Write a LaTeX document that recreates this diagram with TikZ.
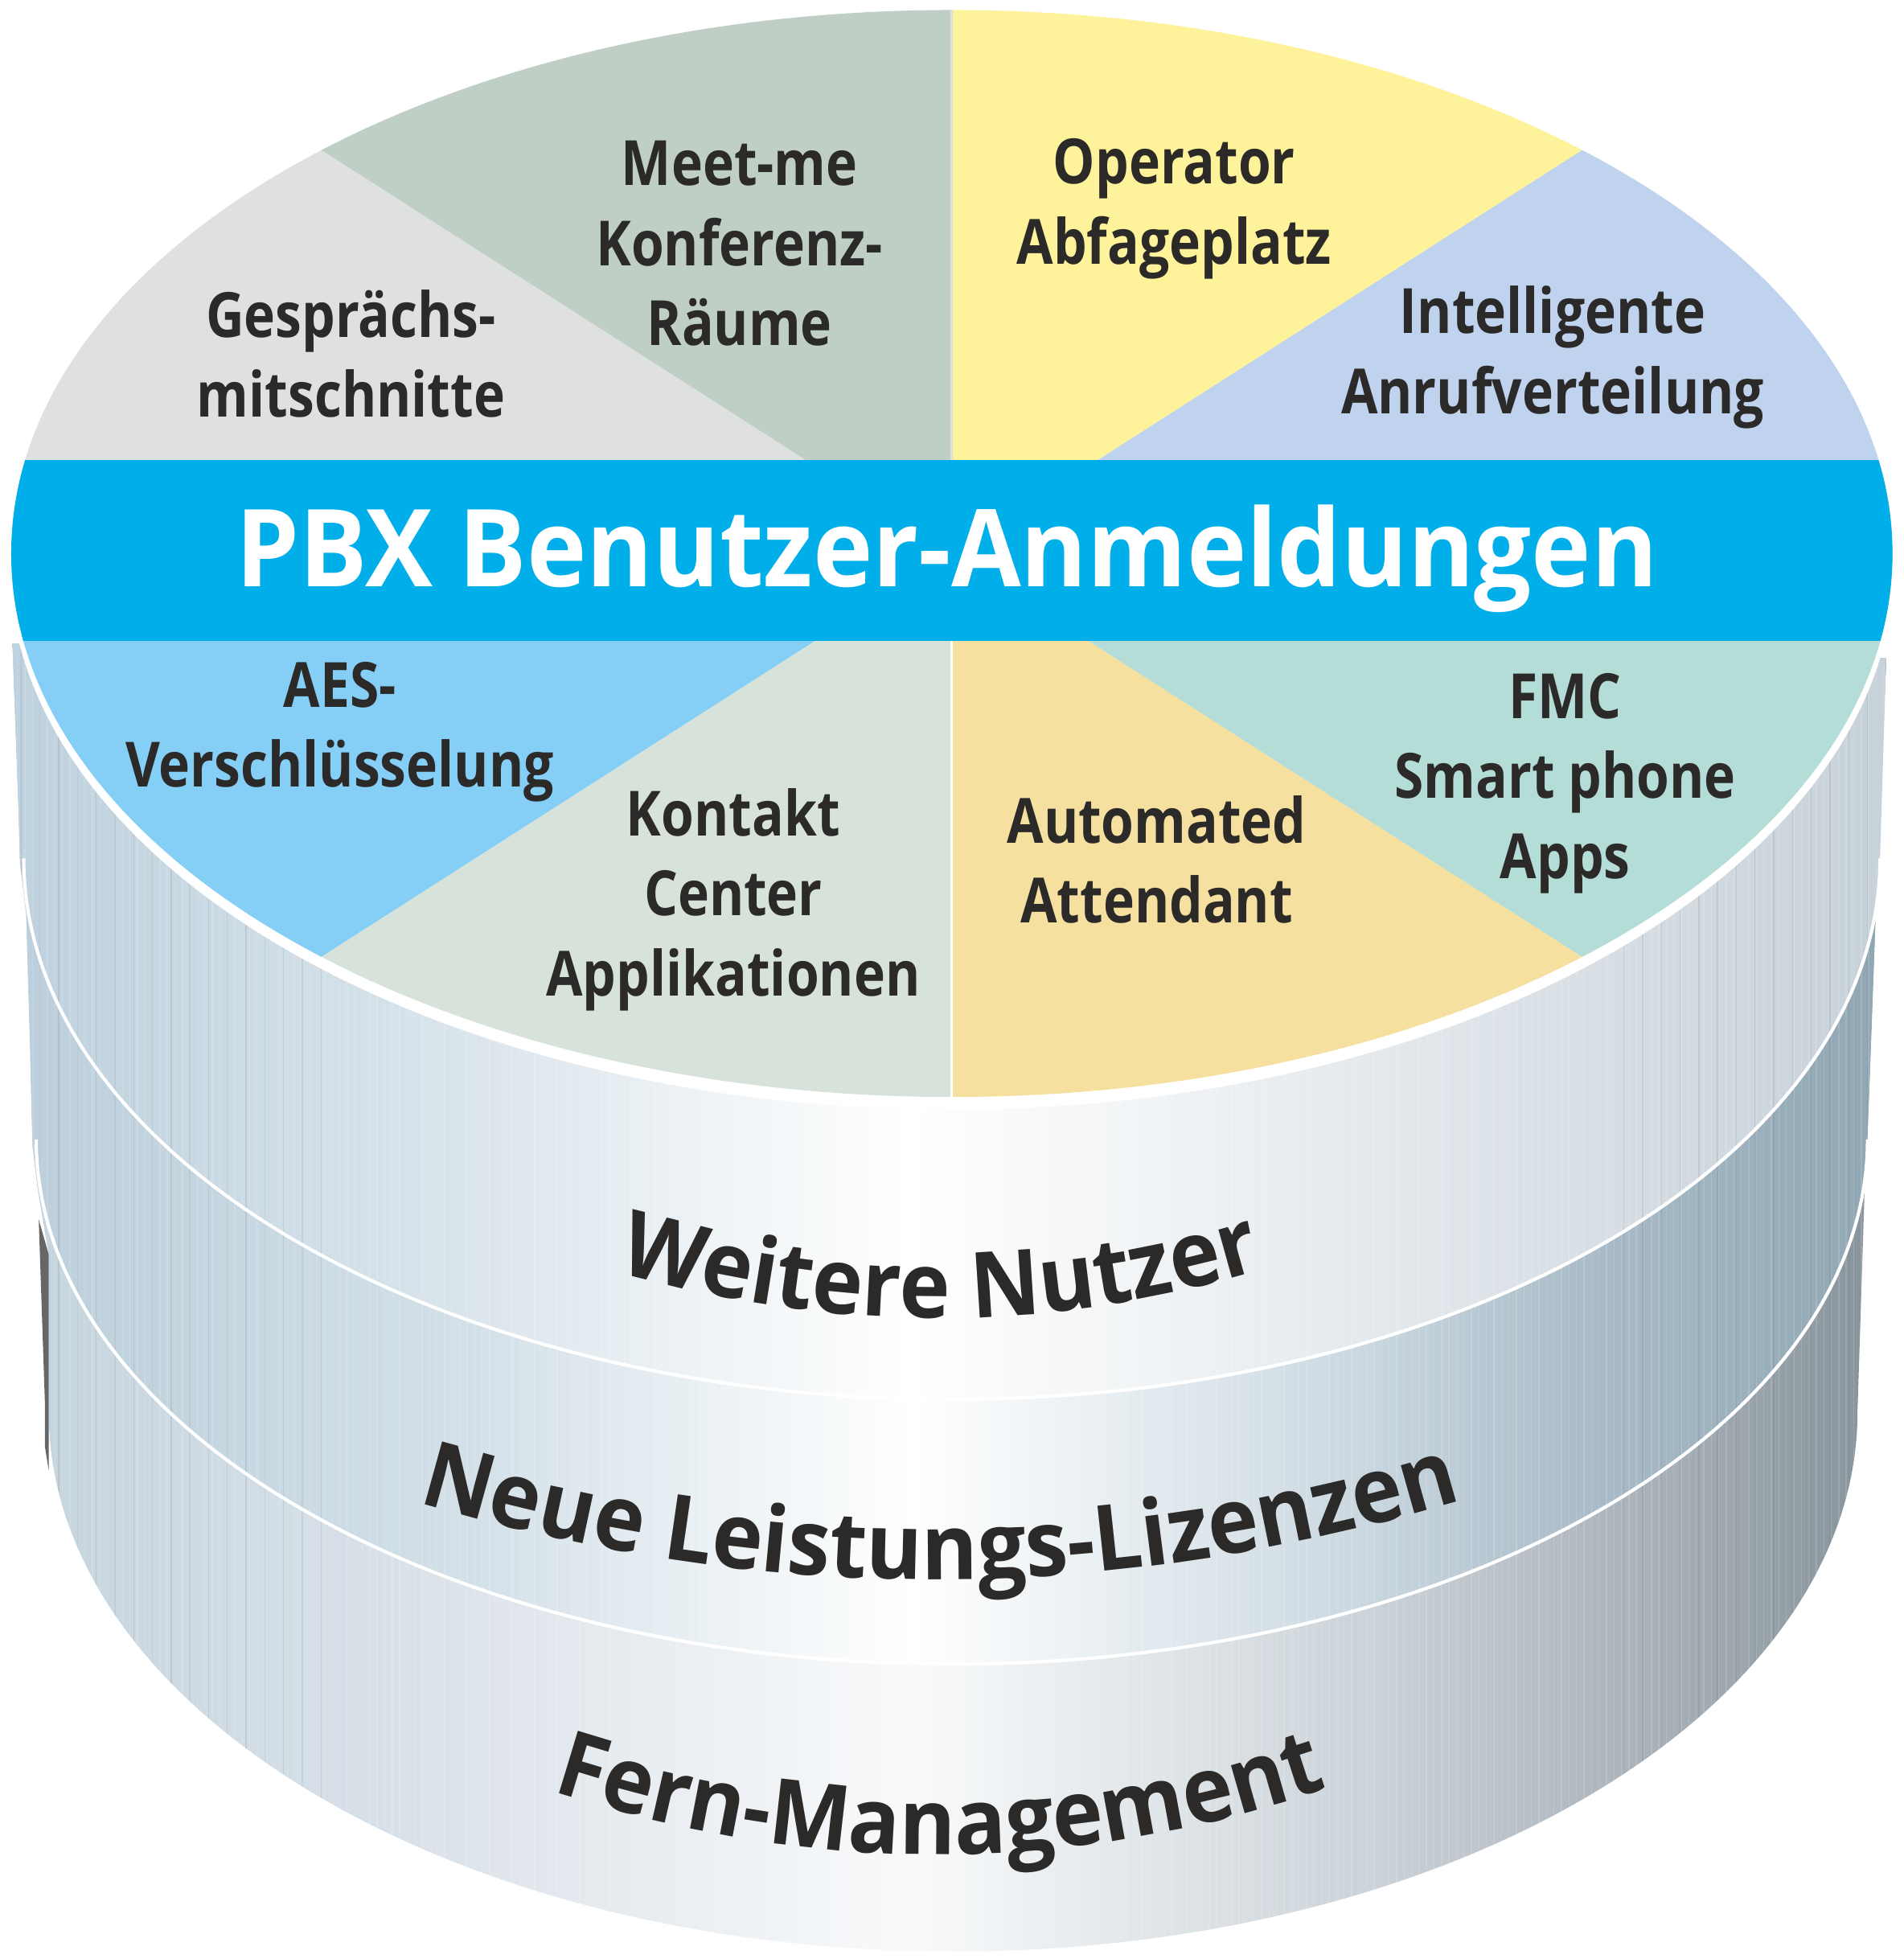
\documentclass[tikz,border=0pt]{standalone}
\usepackage{fontspec}
\setmainfont{Open Sans}
\newfontfamily\labelfam{Open Sans}[FakeStretch=0.85]
\newfontfamily\bandfam{Open Sans}[FakeStretch=0.94]
\usetikzlibrary{decorations.text}
\definecolor{inktext}{HTML}{2B2A29}
\definecolor{bandblue}{HTML}{00AEEA}
\definecolor{secgespraech}{HTML}{DFE1E0}
\definecolor{secmeetme}{HTML}{BFCFC6}
\definecolor{secoperator}{HTML}{FEF39A}
\definecolor{secanruf}{HTML}{BFD2EE}
\definecolor{secaes}{HTML}{85CEF5}
\definecolor{seckontakt}{HTML}{D7E2DA}
\definecolor{secautomated}{HTML}{F5E0A0}
\definecolor{secfmc}{HTML}{B4DDD8}
\pgfdeclarehorizontalshading{layerone}{100bp}{
  rgb(0bp)=(.745,.82,.87);
  rgb(25bp)=(.745,.82,.87);
  rgb(37.5bp)=(.86,.90,.925);
  rgb(49bp)=(1,1,1);
  rgb(61bp)=(.895,.915,.93);
  rgb(75bp)=(.78,.82,.85);
  rgb(100bp)=(.78,.82,.85)}
\pgfdeclarehorizontalshading{layertwo}{100bp}{
  rgb(0bp)=(.735,.81,.86);
  rgb(25bp)=(.735,.81,.86);
  rgb(37.5bp)=(.83,.88,.91);
  rgb(49bp)=(1,1,1);
  rgb(60bp)=(.81,.86,.89);
  rgb(67.5bp)=(.66,.73,.78);
  rgb(75bp)=(.56,.65,.70);
  rgb(100bp)=(.56,.65,.70)}
\pgfdeclarehorizontalshading{layerthree}{100bp}{
  rgb(0bp)=(.77,.83,.87);
  rgb(25bp)=(.77,.83,.87);
  rgb(37.5bp)=(.87,.895,.92);
  rgb(49bp)=(.975,.98,.985);
  rgb(61bp)=(.80,.83,.85);
  rgb(69bp)=(.66,.69,.72);
  rgb(75bp)=(.52,.57,.60);
  rgb(100bp)=(.52,.57,.60)}
\begin{document}
\begin{tikzpicture}[
  x=0.01cm, y=-0.01cm,
  seclabel/.style={align=center, text=inktext, inner sep=0pt, font=\labelfam\bfseries\fontsize{14.2}{18.2}\selectfont},
  ringlabel/.style={decorate, decoration={text along path, text align={center}, text color=inktext, text={|\bandfam\bfseries\fontsize{20.8}{25}\selectfont|#1}}},
  sepline/.style={white, line width=0.75pt},
  rib/.style={white, opacity=0.14, line width=0.25pt},
  darkrib/.style={black!60, opacity=0.14, line width=0.25pt}
]
\useasboundingbox (0,0) rectangle (1524,1568);

% body
\path[shading=layerthree] (10,515) -- (15,652) -- (16,690) -- (21,732) -- (24,836) -- (26,918) -- (30,951) -- (39,1004) -- (39,1130)
  arc[start angle=180, end angle=0, x radius=724, y radius=432] -- (1493,943) -- (1496,883) -- (1503,692) -- (1510,527) -- cycle;
\path[shading=layertwo] (10,515) -- (15,652) -- (16,690) -- (21,732) -- (24,836) -- (26,918) -- (29,912)
  arc[start angle=180, end angle=0, x radius=733, y radius=420] -- (1496,883) -- (1503,692) -- (1510,527) -- cycle;
\path[shading=layerone] (10,515) -- (15,652) -- (16,690) -- (19,687)
  arc[start angle=180, end angle=0, x radius=743, y radius=433] -- (1510,527) -- cycle;
\begin{scope}
  \clip (10,515) -- (15,652) -- (16,690) -- (21,732) -- (24,836) -- (26,918) -- (30,951) -- (39,1004) -- (39,1130)
    arc[start angle=180, end angle=0, x radius=724, y radius=432] -- (1493,943) -- (1496,883) -- (1503,692) -- (1510,527) -- cycle;
  \foreach \rx in {14,20,...,1510} \draw[rib] (\rx,500) -- (\rx,1568);
  \foreach \rx in {17,32,...,260} \draw[darkrib] (\rx,500) -- (\rx,1568);
  \foreach \rx in {1300,1315,...,1510} \draw[darkrib] (\rx,500) -- (\rx,1568);
\end{scope}
\fill[black!60] (31,976) -- (39,1004) -- (39,1177) -- (36,1158) -- (36,1124) -- cycle;
\draw[sepline] (19,687) arc[start angle=180, end angle=0, x radius=743, y radius=433];
\draw[sepline] (29,912) arc[start angle=180, end angle=0, x radius=733, y radius=420];

% top face
\fill[white] (762,449) ellipse[x radius=755, y radius=439];
\begin{scope}
  \clip (762,443) ellipse[x radius=753, y radius=435];
  \fill[secgespraech] (762,443) -- (54,-10) -- (-10,-10) -- (-10,443) -- cycle;
  \fill[secmeetme] (762,443) -- (54,-10) -- (762,-10) -- cycle;
  \fill[secoperator] (762,443) -- (762,-10) -- (1470,-10) -- cycle;
  \fill[secanruf] (762,443) -- (1470,-10) -- (1534,-10) -- (1534,443) -- cycle;
  \fill[secaes] (762,443) -- (54,896) -- (-10,896) -- (-10,443) -- cycle;
  \fill[seckontakt] (762,443) -- (54,896) -- (762,896) -- cycle;
  \fill[secautomated] (762,443) -- (762,896) -- (1470,896) -- cycle;
  \fill[secfmc] (762,443) -- (1470,896) -- (1534,896) -- (1534,443) -- cycle;
  \draw[white!75!gray, line width=0.5pt] (762,0) -- (762,443);
  \draw[white, line width=0.5pt] (762,443) -- (762,890);
  \fill[bandblue] (0,368) rectangle (1524,513);
\end{scope}
\node[text=white, inner sep=0pt, font=\bandfam\bfseries\fontsize{24.5}{30}\selectfont] (bandtext) at (758,447) {PBX Benutzer-Anmeldungen};

\node[seclabel] (gespraech) at (281,283) {Gesprächs-\\mitschnitte};
\node[seclabel] (meetme) at (592,195) {Meet-me\\Konferenz-\\Räume};
\node[seclabel] (operator) at (940,167) {Operator\\Abfageplatz};
\node[seclabel] (anruf) at (1243,286) {Intelligente\\Anrufverteilung};
\node[seclabel] (aes) at (272,586) {AES-\\Verschlüsselung};
\node[seclabel] (kontakt) at (587,720) {Kontakt\\Center\\Applikationen};
\node[seclabel] (automated) at (926,688) {Automated\\Attendant};
\node[seclabel] (fmc) at (1253,627) {FMC\\Smart phone\\Apps};

% curved labels
\path[ringlabel={Weitere Nutzer}] (490,1017) .. controls (668,1068) and (838,1068) .. (1015,1015);
\path[ringlabel={Neue Leistungs-Lizenzen}] (325,1200) .. controls (610,1286) and (890,1286) .. (1180,1198);
\path[ringlabel={Fern-Management}] (430,1430) .. controls (650,1503) and (860,1503) .. (1075,1427);
\end{tikzpicture}
\end{document}
